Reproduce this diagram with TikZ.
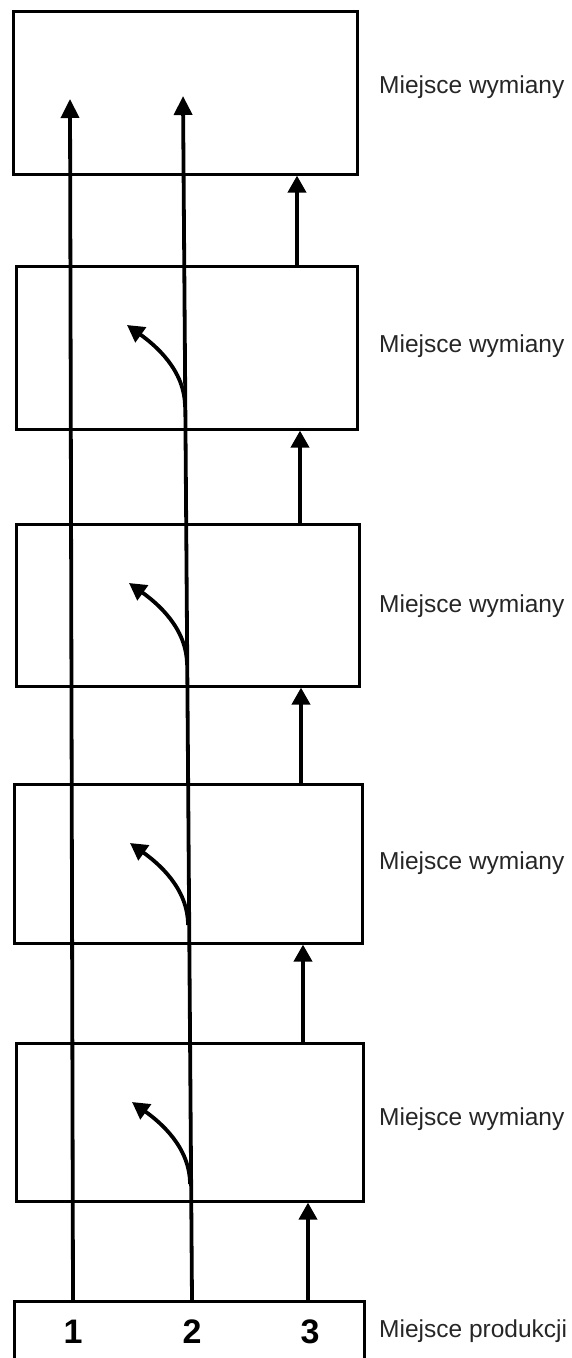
\documentclass[tikz,border=0pt]{standalone}
\usepackage{fontspec}
\setmainfont{Liberation Sans}
\usetikzlibrary{arrows.meta}
\begin{document}
\begin{tikzpicture}[x=1pt,y=-1pt,
  box/.style={draw=black, line width=2.6pt, rectangle, inner sep=0pt, anchor=north west},
  flow/.style={draw=black, line width=3.8pt, -{Triangle[width=18pt,length=19pt]}},
  side/.style={draw=black, line width=3.8pt, -{Triangle[width=18pt,length=17pt]}},
  lab/.style={anchor=west, inner sep=0pt, font=\fontsize{24.5}{27}\selectfont, text=black!85},
  num/.style={inner sep=0pt, font=\fontsize{34}{36}\selectfont\bfseries}]
\useasboundingbox (0,0) rectangle (572,1358);
\begin{scope}
\clip (0,0) rectangle (572,1358);
% boxes
\node[box, minimum width=344pt, minimum height=163pt] (b1) at (12,10) {};
\node[box, minimum width=341pt, minimum height=163pt] (b2) at (15,265) {};
\node[box, minimum width=343pt, minimum height=162pt] (b3) at (15,523) {};
\node[box, minimum width=348pt, minimum height=159pt] (b4) at (13,783) {};
\node[box, minimum width=347pt, minimum height=158pt] (b5) at (15,1042) {};
\node[box, minimum width=350pt, minimum height=100pt] (b6) at (13,1300) {};
% labels
\node[lab] (l1) at (379,87) {Miejsce wymiany};
\node[lab] (l2) at (379,346) {Miejsce wymiany};
\node[lab] (l3) at (379,606) {Miejsce wymiany};
\node[lab] (l4) at (379,863) {Miejsce wymiany};
\node[lab] (l5) at (379,1119) {Miejsce wymiany};
\node[lab] (l6) at (379,1331) {Miejsce produkcji};
% numbers
\node[num] (n1) at (73,1332) {1};
\node[num] (n2) at (192,1332) {2};
\node[num] (n3) at (310,1332) {3};
% tips of long arrows
\coordinate (t1) at (70,99);
\coordinate (t2) at (183,96);
\coordinate (s1) at (73,1300);
\coordinate (s2) at (192,1300);
\draw[flow] (s1) -- (t1);
\draw[flow] (s2) -- (t2);
% arrows of stream 3
\draw[side] (b6.north -| 308,0) -- (b5.south -| 308,0);
\draw[side] (b5.north -| 303,0) -- (b4.south -| 303,0);
\draw[side] (b4.north -| 301,0) -- (b3.south -| 301,0);
\draw[side] (b3.north -| 300,0) -- (b2.south -| 300,0);
\draw[side] (b2.north -| 297,0) -- (b1.south -| 297,0);
% curved branches
\foreach \T/\X/\k in {265/185/2, 523/187/3, 783/188/4, 1042/190/5}{
  \coordinate (cs\k) at (\X,\T+142);
  \coordinate (ce\k) at (\X-58,\T+60);
  \draw[side] (cs\k) .. controls (\X,\T+105) and (\X-30,\T+80) .. (ce\k);
}
\end{scope}
\end{tikzpicture}
\end{document}
